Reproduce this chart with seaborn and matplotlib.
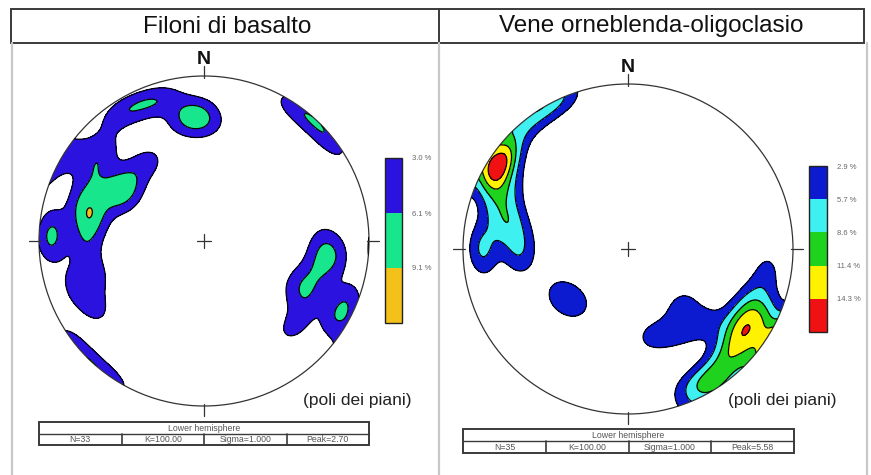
import numpy as np
import matplotlib
matplotlib.use("Agg")
import matplotlib.pyplot as plt
from matplotlib.patches import Circle, Rectangle
import seaborn as sns

# ---------------- data ----------------
titles = ["Filoni di basalto", "Vene orneblenda-oligoclasio"]

# poles to planes (trend, plunge in degrees), lower hemisphere
left_trend = [352.2, 0.0, 356.4, 343.8, 335.1, 326.0,
              34.0, 43.0, 52.0,
              114.5, 118.4, 102.9, 91.6, 97.1, 133.9, 119.4, 113.8,
              283.7, 280.1, 288.7, 298.2, 299.4, 308.0, 324.7, 268.4,
              270.0, 273.7, 302.5, 311.6, 303.0, 253.1, 250.3, 238.8]
left_plunge = [27.2, 29.7, 20.9, 11.4, 10.6, 8.0,
               2.0, 2.0, 2.0,
               37.4, 29.1, 29.0, 28.8, 20.5, 25.9, 9.1, 6.8,
               28.8, 32.5, 22.9, 36.6, 44.1, 41.2, 40.8, 28.8,
               7.8, 8.7, 22.8, 18.2, 5.2, 31.6, 18.2, 23.8]

right_trend = [302.0, 300.0, 304.0, 301.0, 305.0,
               316.0, 326.0, 335.0, 290.0, 296.0, 285.0, 282.0,
               267.0, 273.0, 265.0, 275.0, 224.0, 236.0,
               164.2, 135.8, 149.0, 134.4, 99.5, 148.6, 154.0,
               123.5, 119.0, 115.2, 130.1, 125.3, 121.2, 135.9, 131.1, 112.7, 142.6]
right_plunge = [6.0, 8.0, 5.0, 10.0, 9.0,
                4.0, 3.0, 2.0, 15.0, 20.0, 24.0, 28.0,
                13.0, 13.0, 35.0, 34.0, 52.0, 49.0,
                44.1, 50.9, 41.3, 35.9, 15.9, 9.0, 9.0,
                23.1, 16.5, 9.3, 18.8, 14.0, 6.0, 13.4, 8.0, 20.9, 10.4]

left_levels = [3.0, 6.1, 9.1]
right_levels = [2.9, 5.7, 8.6, 11.4, 14.3]
left_colors = ["#2c12de", "#18e68c", "#f4c01a"]
right_colors = ["#0c1ad0", "#3ef0f0", "#1ed21e", "#fff200", "#f01212"]
left_stats = ["N=33", "K=100.00", "Sigma=1.000", "Peak=2.70"]
right_stats = ["N=35", "K=100.00", "Sigma=1.000", "Peak=5.58"]
header = "Lower hemisphere"
note = "(poli dei piani)"

# ---------------- style ----------------
sns.set_theme(style="white")
plt.rcParams["font.family"] = ["Liberation Sans", "DejaVu Sans"]

KAPPA = 70.0
GAIN = 1.15
W, H = 871, 475
R_PX = 165.0


def pole_vectors(trend, plunge):
    t = np.radians(np.asarray(trend))
    p = np.radians(np.asarray(plunge))
    return np.column_stack([np.cos(p) * np.sin(t), np.cos(p) * np.cos(t), np.sin(p)])


def density(trend, plunge, n=401):
    xs = np.linspace(-1.03, 1.03, n)
    X, Y = np.meshgrid(xs, xs)
    R = np.clip(np.hypot(X, Y), 0, 1.0)
    theta = 2 * np.arcsin(R / np.sqrt(2))
    az = np.arctan2(X, Y)
    G = np.stack([np.sin(theta) * np.sin(az), np.sin(theta) * np.cos(az), np.cos(theta)], -1)
    P = pole_vectors(trend, plunge)
    c = np.abs(G @ P.T)
    f = np.exp(KAPPA * (c - 1.0)).sum(-1)
    return X, Y, 100.0 / len(trend) * GAIN * f


fig = plt.figure(figsize=(W / 100, H / 100), dpi=100)
fig.patch.set_facecolor("white")

ov = fig.add_axes([0, 0, 1, 1])
ov.set_xlim(0, W)
ov.set_ylim(H, 0)
ov.axis("off")

frame_c = "#3a3a3a"
ov.add_patch(Rectangle((11, 9), 853, 34, fill=False, lw=1.4, ec=frame_c))
ov.plot([439, 439], [9, 43], color=frame_c, lw=1.4)
for xg in (12, 439, 867):
    ov.plot([xg, xg], [43, H], color="#c8c8c8", lw=1.6)
ov.text(227, 27, titles[0], ha="center", va="center", fontsize=17.5, color="#111")
ov.text(651, 26, titles[1], ha="center", va="center", fontsize=17.5, color="#111")


def draw_table(x0, x1, y0, y1, cells):
    ym = (y0 + y1) / 2
    ov.add_patch(Rectangle((x0, y0), x1 - x0, y1 - y0, fill=False, lw=1.4, ec=frame_c))
    ov.plot([x0, x1], [ym, ym], color=frame_c, lw=1.0)
    ov.text((x0 + x1) / 2, (y0 + ym) / 2 + 0.5, header, ha="center", va="center",
            fontsize=6.3, color="#555")
    w = (x1 - x0) / len(cells)
    for i, c in enumerate(cells):
        if i:
            ov.plot([x0 + i * w] * 2, [ym, y1], color=frame_c, lw=1.2)
        ov.text(x0 + (i + 0.5) * w, (ym + y1) / 2 + 0.5, c, ha="center", va="center",
                fontsize=6.3, color="#555")


draw_table(39, 369, 422, 445, left_stats)
draw_table(463, 794, 429, 453, right_stats)
ov.text(303, 401, note, ha="left", va="center", fontsize=12.5, color="#222")
ov.text(728, 401, note, ha="left", va="center", fontsize=12.5, color="#222")


def draw_net(cx, cy, trend, plunge, levels, colors, cbar_box):
    half = 1.1 * R_PX
    ax = fig.add_axes([(cx - half) / W, (H - cy - half) / H, 2 * half / W, 2 * half / H])
    ax.set_xlim(-1.1, 1.1)
    ax.set_ylim(-1.1, 1.1)
    ax.set_aspect("equal")
    ax.axis("off")
    X, Y, D = density(trend, plunge)
    lv = list(levels) + [1e4]
    circ = Circle((0, 0), 1.0, transform=ax.transData)
    cs = ax.contourf(X, Y, D, levels=lv, colors=colors)
    cs.set_clip_path(circ)
    cl = ax.contour(X, Y, D, levels=levels, colors="black", linewidths=0.9)
    cl.set_clip_path(circ)
    ax.add_patch(Circle((0, 0), 1.0, fill=False, lw=0.9, ec="#333"))
    k = "#333"
    ax.plot([0, 0], [0.985, 1.06], color=k, lw=0.9)
    ax.plot([0, 0], [-0.985, -1.06], color=k, lw=0.9)
    ax.plot([0.985, 1.06], [0, 0], color=k, lw=0.9)
    ax.plot([-0.985, -1.06], [0, 0], color=k, lw=0.9)
    ax.plot([-0.045, 0.045], [0, 0], color=k, lw=0.9)
    ax.plot([0, 0], [-0.045, 0.045], color=k, lw=0.9)
    ax.text(0, 1.1, "N", ha="center", va="center", fontsize=14, fontweight="bold",
            color="#111", clip_on=False)
    x0, y0, x1, y1 = cbar_box
    cax = fig.add_axes([x0 / W, (H - y1) / H, (x1 - x0) / W, (y1 - y0) / H])
    cb = fig.colorbar(cs, cax=cax, spacing="uniform", drawedges=True)
    cb.set_ticks(levels)
    cb.set_ticklabels([f"{v:.1f} %" for v in levels])
    cax.invert_yaxis()
    cb.outline.set_linewidth(1.0)
    cb.outline.set_edgecolor("#222")
    cb.dividers.set_color("#222")
    cb.dividers.set_linewidth(1.0)
    cax.tick_params(length=0, labelsize=5.5, labelcolor="#666", pad=7)
    return ax


draw_net(204, 241, left_trend, left_plunge, left_levels, left_colors, (385, 158, 402, 323))
draw_net(628, 249, right_trend, right_plunge, right_levels, right_colors, (809, 166, 827, 332))

fig.savefig("out.png", dpi=100, facecolor="white")
